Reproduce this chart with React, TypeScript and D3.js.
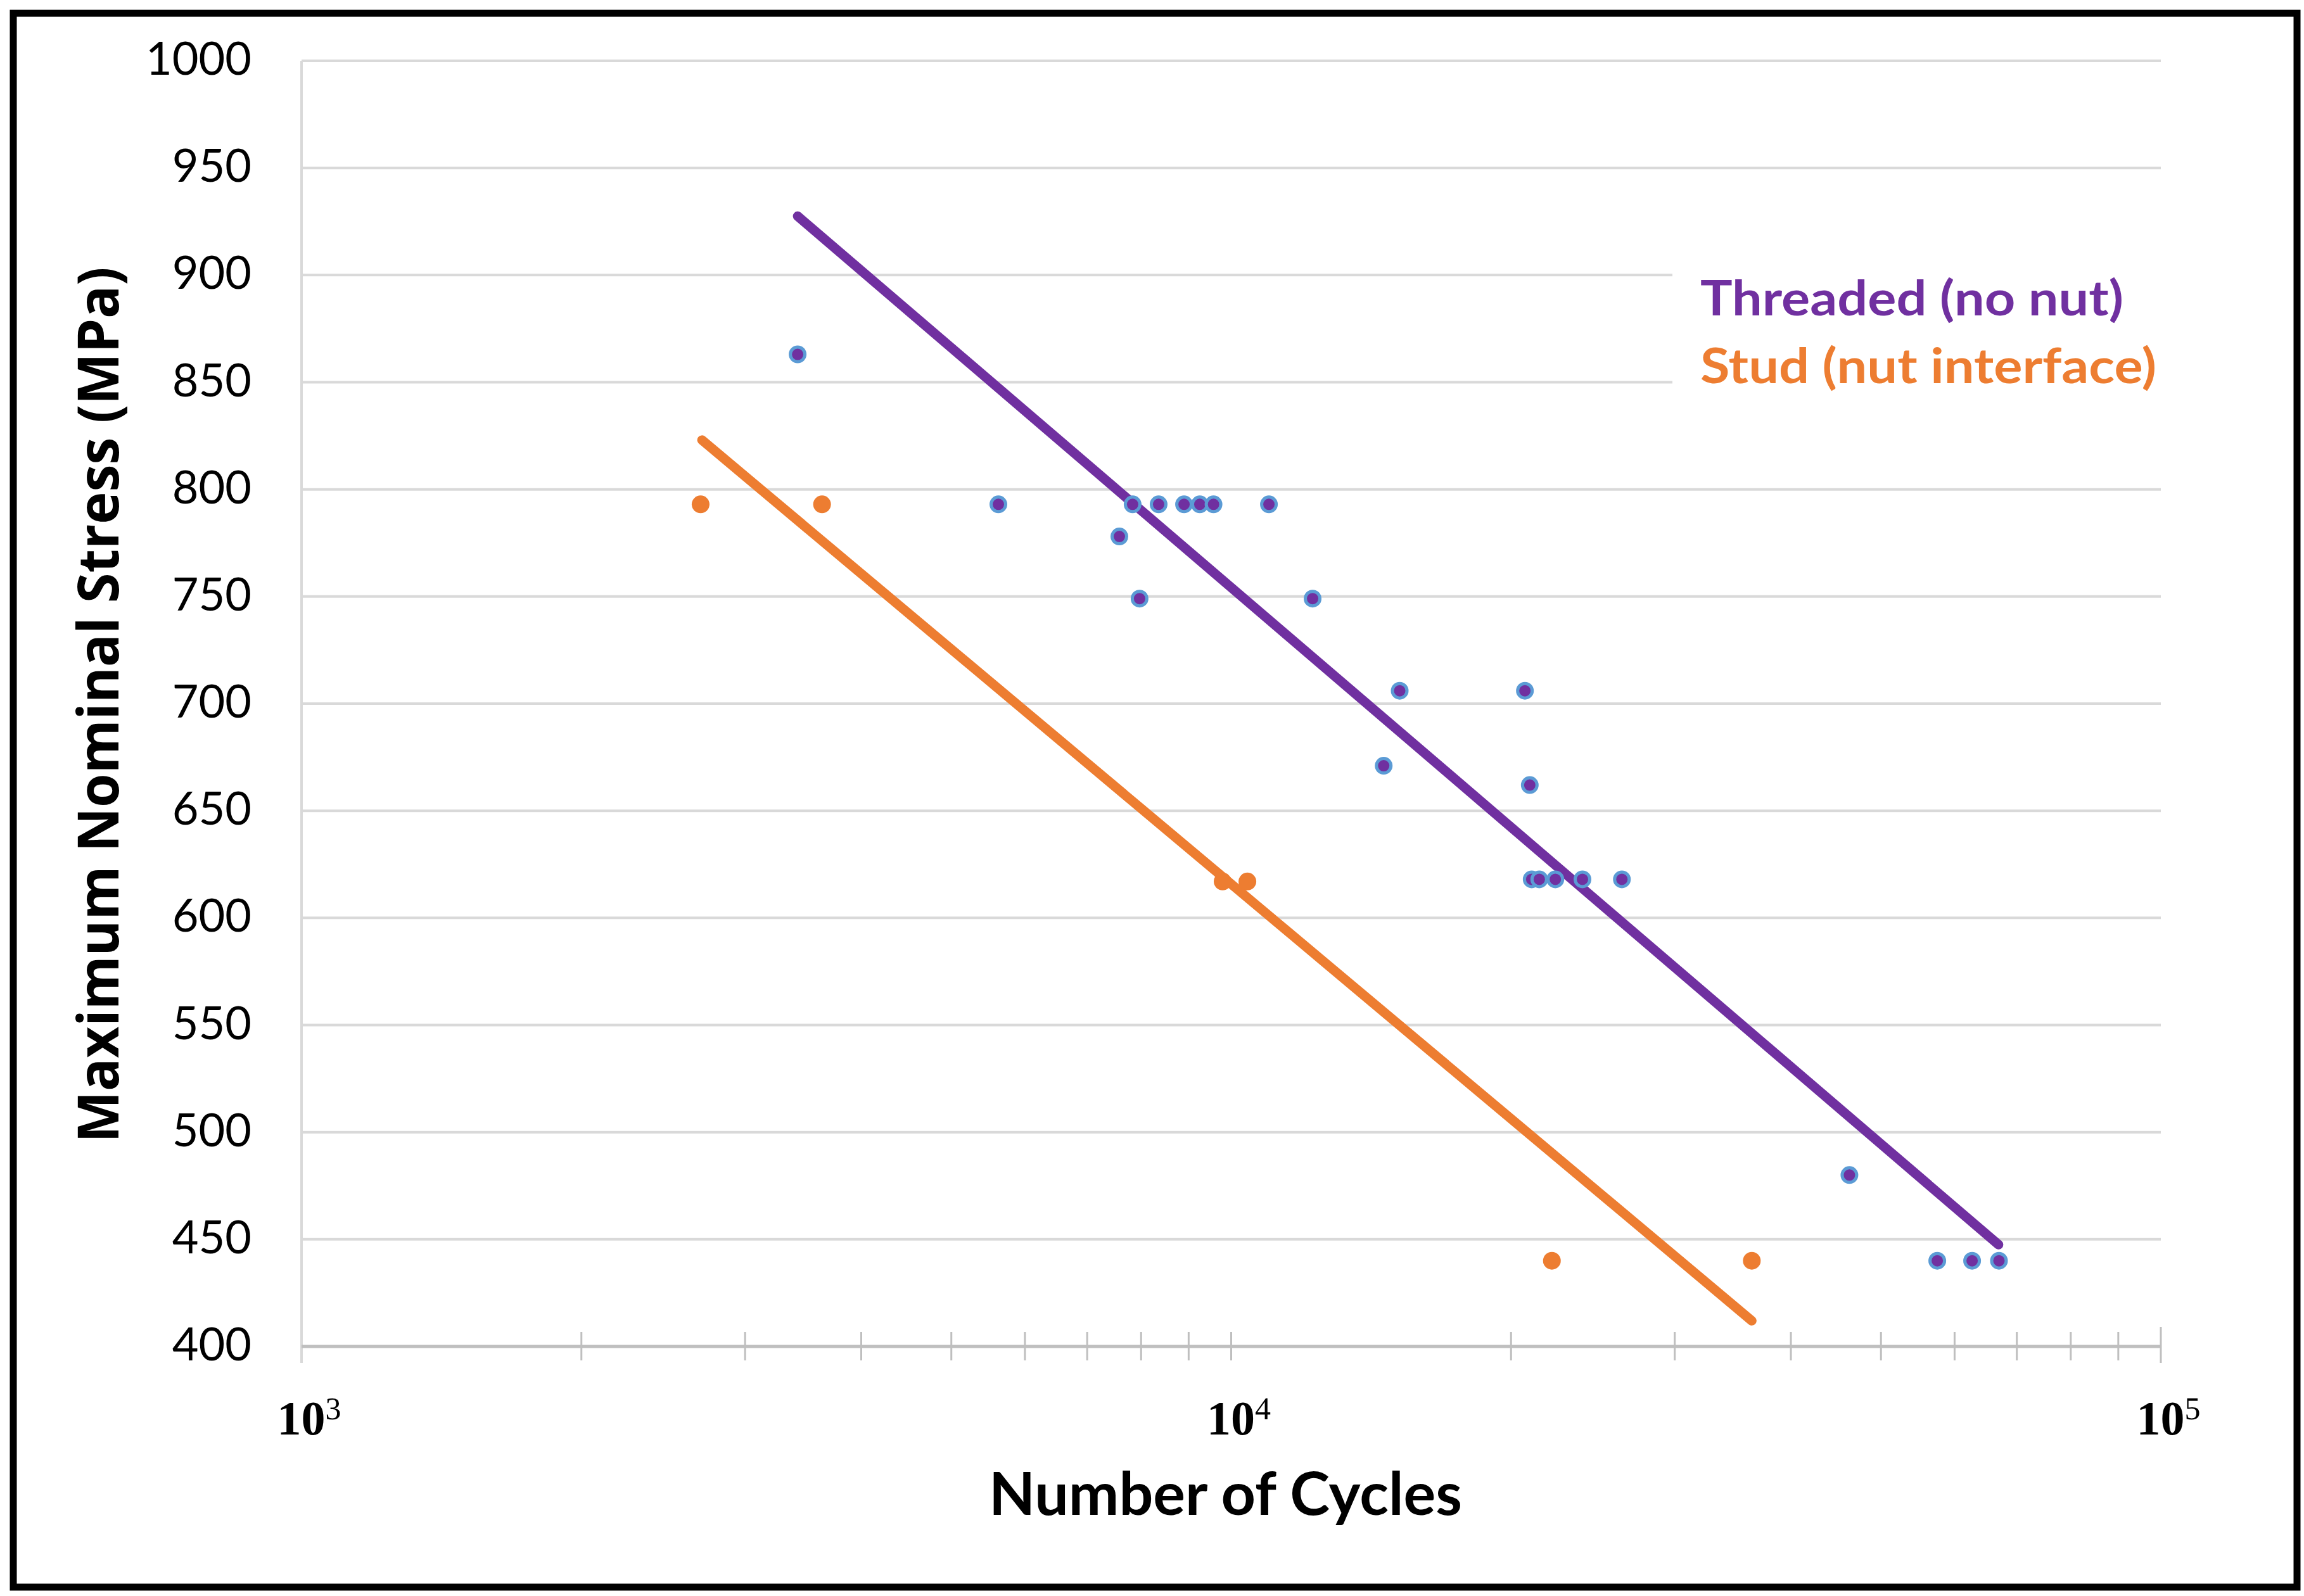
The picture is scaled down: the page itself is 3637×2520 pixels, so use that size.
import * as d3 from 'd3'
import { useEffect, useRef } from 'react'

// S-N data (cycles, MPa)
const threadedCycles = [3417, 5618, 7581, 7834, 7970, 8355, 8898, 9252, 9572, 10980, 12235, 14590, 15180, 20700, 20950, 21050, 21450, 22320, 23870, 26320, 46240, 57480, 62660, 66970];
const threadedStress = [863, 793, 778, 793, 749, 793, 793, 793, 793, 793, 749, 671, 706, 706, 662, 618, 618, 618, 618, 618, 480, 440, 440, 440];

const studCycles = [2687, 3630, 9790, 10410, 22130, 36310];
const studStress = [793, 793, 617, 617, 440, 440];

// fitted trend lines (end points)
const threadedTrendCycles = [3417, 66900];
const threadedTrendStress = [927.5, 447.5];
const studTrendCycles = [2696, 36310];
const studTrendStress = [823, 412];

const stressTicks = [400, 450, 500, 550, 600, 650, 700, 750, 800, 850, 900, 950, 1000];
const decadeExponents = [3, 4, 5];
const seriesNames = ['Threaded (no nut)', 'Stud (nut interface)'];

const WIDTH = 3637;
const HEIGHT = 2520;

const PURPLE = '#7030a0';
const ORANGE = '#ed7d31';
const MARKER_EDGE = '#5b9bd5';
const GRID = '#d9d9d9';

const App = () => {
    const svgRef = useRef<SVGSVGElement>(null);

    useEffect(() => {
        const svg = d3.select(svgRef.current);
        svg.selectAll('*').remove();

        const left = 476, right = 3411, top = 96, bottom = 2126;

        const x = d3.scaleLog().domain([1e3, 1e5]).range([left, right]);
        const y = d3.scaleLinear().domain([400, 1000]).range([bottom, top]);

        svg.append('rect').attr('width', WIDTH).attr('height', HEIGHT).attr('fill', '#fff');

        // horizontal gridlines
        svg.append('g')
            .selectAll('line')
            .data(stressTicks.filter(d => d !== 400))
            .join('line')
            .attr('x1', left)
            .attr('x2', right)
            .attr('y1', d => y(d))
            .attr('y2', d => y(d))
            .attr('stroke', GRID)
            .attr('stroke-width', 4);

        // legend background hides grid behind it
        svg.append('rect')
            .attr('x', 2640).attr('y', 415)
            .attr('width', right - 2640).attr('height', 225)
            .attr('fill', '#fff');

        // y axis line
        svg.append('line')
            .attr('x1', left).attr('x2', left)
            .attr('y1', y(1000)).attr('y2', bottom + 26)
            .attr('stroke', GRID).attr('stroke-width', 4);

        // x axis line
        svg.append('line')
            .attr('x1', left).attr('x2', right)
            .attr('y1', bottom).attr('y2', bottom)
            .attr('stroke', '#bfbfbf').attr('stroke-width', 5);

        // log ticks
        svg.append('g')
            .selectAll('line')
            .data(x.ticks().filter(d => d > 1e3))
            .join('line')
            .attr('x1', d => x(d))
            .attr('x2', d => x(d))
            .attr('y1', d => d === 1e5 ? bottom - 31 : bottom - 23)
            .attr('y2', d => d === 1e5 ? bottom + 26 : bottom + 22)
            .attr('stroke', '#bfbfbf')
            .attr('stroke-width', 3);

        // y tick labels
        svg.append('g')
            .selectAll('text')
            .data(stressTicks)
            .join('text')
            .attr('x', 397)
            .attr('y', d => y(d) + 22)
            .attr('text-anchor', 'end')
            .attr('font-family', 'Lato, sans-serif')
            .attr('font-size', 72)
            .attr('fill', '#000')
            .text(d => d);

        // x tick labels: 10^n
        const xLabels = svg.append('g')
            .selectAll('text')
            .data(decadeExponents)
            .join('text')
            .attr('x', d => x(Math.pow(10, d)) + 12)
            .attr('y', 2265)
            .attr('text-anchor', 'middle')
            .attr('font-family', '"Liberation Serif", "Times New Roman", serif')
            .attr('font-weight', 'bold')
            .attr('font-size', 76)
            .attr('fill', '#000');
        xLabels.append('tspan').text('10');
        xLabels.append('tspan')
            .attr('font-size', 50)
            .attr('font-weight', 'normal')
            .attr('dy', -24)
            .text(d => d);

        // trend lines
        const line = d3.line<[number, number]>()
            .x(d => x(d[0]))
            .y(d => y(d[1]));

        svg.append('path')
            .datum(d3.zip(threadedTrendCycles, threadedTrendStress) as [number, number][])
            .attr('fill', 'none')
            .attr('stroke', PURPLE)
            .attr('stroke-width', 15)
            .attr('stroke-linecap', 'round')
            .attr('d', line);

        svg.append('path')
            .datum(d3.zip(studTrendCycles, studTrendStress) as [number, number][])
            .attr('fill', 'none')
            .attr('stroke', ORANGE)
            .attr('stroke-width', 15)
            .attr('stroke-linecap', 'round')
            .attr('d', line);

        // stud points
        svg.append('g')
            .selectAll('circle')
            .data(d3.zip(studCycles, studStress))
            .join('circle')
            .attr('cx', d => x(d[0]))
            .attr('cy', d => y(d[1]))
            .attr('r', 14)
            .attr('fill', ORANGE);

        // threaded points
        svg.append('g')
            .selectAll('circle')
            .data(d3.zip(threadedCycles, threadedStress))
            .join('circle')
            .attr('cx', d => x(d[0]))
            .attr('cy', d => y(d[1]))
            .attr('r', 11.5)
            .attr('fill', PURPLE)
            .attr('stroke', MARKER_EDGE)
            .attr('stroke-width', 5);

        // legend
        svg.append('text')
            .attr('x', 2684).attr('y', 498)
            .attr('font-family', 'Lato, sans-serif')
            .attr('font-weight', 'bold')
            .attr('font-size', 77)
            .attr('fill', PURPLE)
            .attr('textLength', 668)
            .attr('lengthAdjust', 'spacingAndGlyphs')
            .text(seriesNames[0]);

        svg.append('text')
            .attr('x', 2684).attr('y', 605)
            .attr('font-family', 'Lato, sans-serif')
            .attr('font-weight', 'bold')
            .attr('font-size', 77)
            .attr('fill', ORANGE)
            .attr('textLength', 720)
            .attr('lengthAdjust', 'spacingAndGlyphs')
            .text(seriesNames[1]);

        // axis titles
        svg.append('text')
            .attr('x', 1561).attr('y', 2392)
            .attr('font-family', 'Lato, sans-serif')
            .attr('font-weight', 'bold')
            .attr('font-size', 93)
            .attr('fill', '#000')
            .attr('textLength', 747)
            .attr('lengthAdjust', 'spacingAndGlyphs')
            .text('Number of Cycles');

        svg.append('text')
            .attr('transform', 'rotate(-90)')
            .attr('x', -1113).attr('y', 187)
            .attr('text-anchor', 'middle')
            .attr('font-family', '"Open Sans", sans-serif')
            .attr('font-weight', 'bold')
            .attr('font-size', 90)
            .attr('fill', '#000')
            .attr('textLength', 1383)
            .attr('lengthAdjust', 'spacingAndGlyphs')
            .text('Maximum Nominal Stress (MPa)');

        // outer frame
        svg.append('rect')
            .attr('x', 21).attr('y', 21)
            .attr('width', 3605).attr('height', 2485)
            .attr('fill', 'none')
            .attr('stroke', '#000')
            .attr('stroke-width', 11);
    }, []);

    return (
        <svg ref={svgRef} width={WIDTH} height={HEIGHT} style={{ position: 'absolute', left: 0, top: 0 }} />
    );
};

export default App;
